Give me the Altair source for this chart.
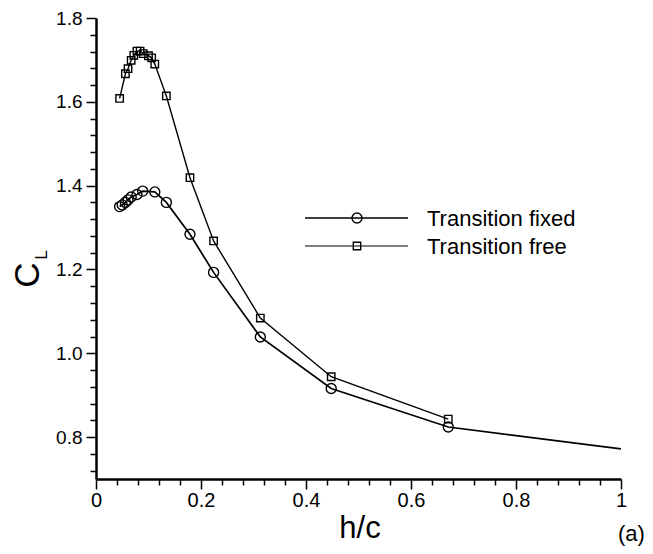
import altair as alt
import pandas as pd

# Transition fixed (circles); the last value (h/c = 1) is drawn as line only
FIXED_X = [0.045, 0.050, 0.056, 0.061, 0.067, 0.078, 0.089, 0.112, 0.134,
           0.179, 0.224, 0.313, 0.448, 0.671, 1.0]
FIXED_Y = [1.350, 1.354, 1.360, 1.366, 1.373, 1.379, 1.387, 1.385, 1.360,
           1.284, 1.193, 1.039, 0.916, 0.824, 0.772]
FIXED_MARK = [True] * 14 + [False]

# Transition free (squares)
FREE_X = [0.045, 0.056, 0.061, 0.067, 0.072, 0.078, 0.084, 0.090, 0.100,
          0.106, 0.112, 0.134, 0.179, 0.224, 0.313, 0.448, 0.671]
FREE_Y = [1.608, 1.667, 1.679, 1.699, 1.711, 1.721, 1.721, 1.715, 1.710,
          1.705, 1.690, 1.614, 1.419, 1.268, 1.084, 0.944, 0.843]

X_TICKS = [round(i * 0.04, 2) for i in range(26)]
Y_TICKS = [round(0.72 + i * 0.04, 2) for i in range(28)]

LEGEND = ["Transition fixed", "Transition free"]

FONT = "Liberation Sans"
W, H = 525, 461

fixed = pd.DataFrame({"x": FIXED_X, "y": FIXED_Y, "m": FIXED_MARK})
free = pd.DataFrame({"x": FREE_X, "y": FREE_Y})

MAJ = "abs(datum.value * 5 - round(datum.value * 5)) < 0.001"

x_axis = alt.Axis(
    values=X_TICKS,
    labelExpr=f"{MAJ} ? (datum.value == 0 ? '0' : (datum.value == 1 ? '1' : format(datum.value, '.1f'))) : ''",
    tickSize={"condition": {"test": MAJ, "value": 10}, "value": 6},
    tickColor="black", tickWidth=1.5,
    domainColor="black", domainWidth=2.5,
    labelFont=FONT, labelFontSize=20, labelColor="black", labelPadding=1,
    labelFlush=False, labelOverlap=False, grid=False, title=None,
)
y_axis = alt.Axis(
    values=Y_TICKS,
    labelExpr=f"{MAJ} ? format(datum.value, '.1f') : ''",
    tickSize={"condition": {"test": MAJ, "value": 10}, "value": 6},
    tickColor="black", tickWidth=1.5,
    domainColor="black", domainWidth=2.5,
    labelFont=FONT, labelFontSize=19, labelColor="black", labelPadding=4,
    labelFlush=False, labelOverlap=False, grid=False, title=None,
)
xs = alt.Scale(domain=[0, 1], nice=False, zero=False)
ys = alt.Scale(domain=[0.7, 1.8], nice=False, zero=False)

def enc(ch):
    return ch.encode(
        x=alt.X("x:Q", scale=xs, axis=x_axis),
        y=alt.Y("y:Q", scale=ys, axis=y_axis),
    )

line_fixed = enc(alt.Chart(fixed).mark_line(color="black", strokeWidth=1.7))
pts_fixed = enc(alt.Chart(fixed).transform_filter("datum.m").mark_point(
    shape="circle", size=100, filled=False, color="black", strokeWidth=1.4, opacity=1))
line_free = enc(alt.Chart(free).mark_line(color="black", strokeWidth=1.4))
pts_free = enc(alt.Chart(free).mark_point(
    shape="square", size=55, filled=False, color="black", strokeWidth=1.4, opacity=1))

one = pd.DataFrame({"a": [0]})

def txt(s, x, y, size, angle=0, align="left", baseline="alphabetic"):
    kw = dict(text=s, font=FONT, fontSize=size, color="black",
              align=align, baseline=baseline)
    if angle:
        kw["angle"] = angle
    return alt.Chart(one).mark_text(**kw).encode(x=alt.value(x), y=alt.value(y))

# legend (positions in plot pixel coordinates)
leg_rows = [200, 228]
legend_layers = []
for i, (lab, yy) in enumerate(zip(LEGEND, leg_rows)):
    legend_layers.append(
        alt.Chart(one).mark_rule(color="black", strokeWidth=1.7 if i == 0 else 1.2)
        .encode(x=alt.value(209), x2=alt.value(312), y=alt.value(yy))
    )
    legend_layers.append(
        alt.Chart(one).mark_point(
            shape="circle" if i == 0 else "square",
            size=100 if i == 0 else 55, filled=False, color="black",
            strokeWidth=1.4, opacity=1)
        .encode(x=alt.value(261), y=alt.value(yy))
    )
    legend_layers.append(txt(lab, 331, yy + 1, 22, baseline="middle"))

titles = [
    txt("h/c", 264, 520, 31, align="center"),
    txt("C", -68, 257, 35, angle=270, align="center", baseline="middle"),
    txt("L", -54, 237, 17, angle=270, align="center", baseline="middle"),
    txt("(a)", 522, 523, 22),
]

chart = alt.layer(
    line_fixed, pts_fixed, line_free, pts_free, *legend_layers, *titles
).properties(
    width=W, height=H,
    autosize=alt.AutoSizeParams(type="none"),
    padding={"left": 88, "top": 10, "right": 24, "bottom": 67},
).configure_view(stroke=None)

chart.save("out.html", embed_options={"renderer": "svg", "actions": False})
